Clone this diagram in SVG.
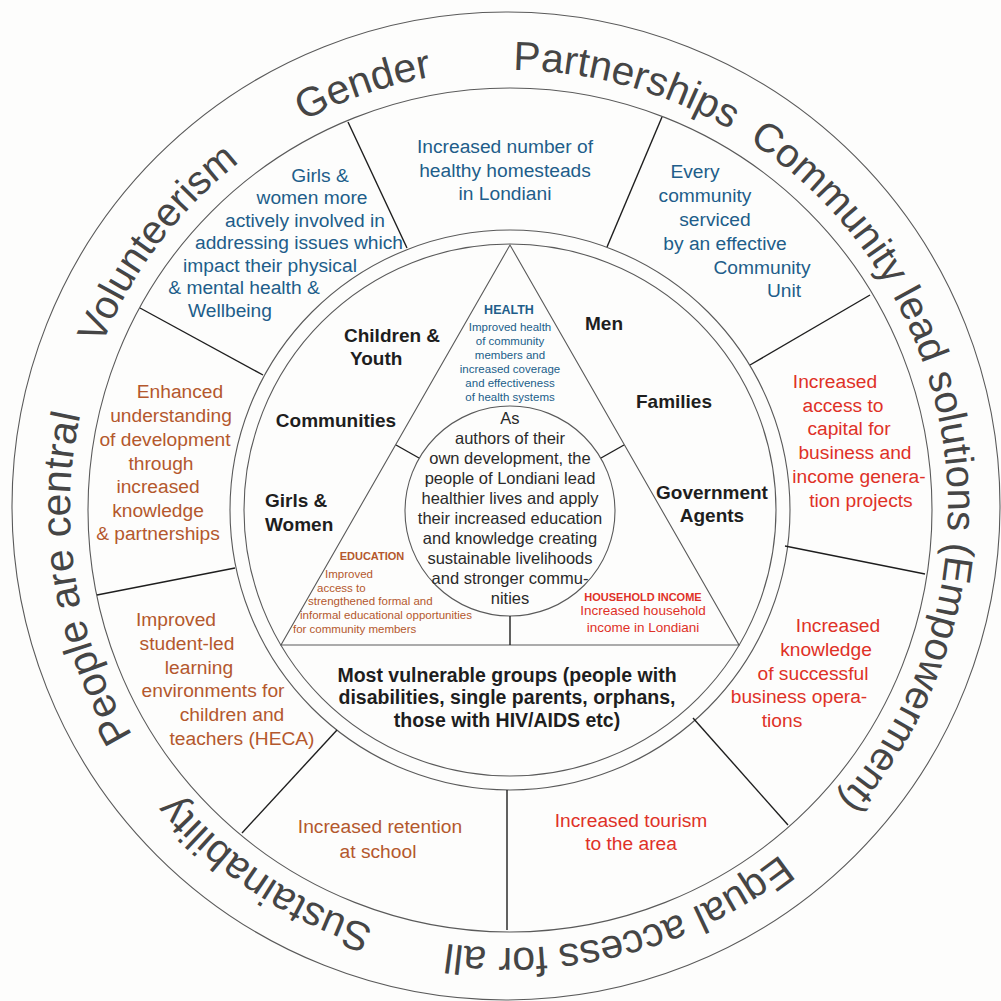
<svg xmlns="http://www.w3.org/2000/svg" width="1001" height="1001" viewBox="0 0 1001 1001">
<defs>
<path id="ring" d="M 509,70 A 439,439 0 0 1 509,948 A 439,439 0 0 1 509,70"/>
<style>
.circ{fill:none;stroke:#5a5a5a;stroke-width:1.1}
.div{stroke:#1e1e1e;stroke-width:1.4}
.ringtxt{font-family:"Liberation Sans",Arial,sans-serif;font-size:41px;fill:#454545;text-anchor:middle}
.w{font-family:"Liberation Sans",Arial,sans-serif;font-size:19.2px;text-anchor:middle}
.blue{fill:#215d8a}
.orange{fill:#b4582d}
.red{fill:#df3127}
.lbl{font-family:"Liberation Sans",Arial,sans-serif;font-size:19px;font-weight:bold;fill:#1e1e1e}
.ctr{font-family:"Liberation Sans",Arial,sans-serif;font-size:16.5px;fill:#2a2a2a;text-anchor:middle}
.sm{font-family:"Liberation Sans",Arial,sans-serif;font-size:11.5px}
.hd{font-family:"Liberation Sans",Arial,sans-serif;font-weight:bold;text-anchor:middle}
</style>
</defs>
<rect width="1001" height="1001" fill="#fdfdfc"/>

<g id="rings">
<circle class="circ" cx="506" cy="506" r="494"/>
<circle class="circ" cx="510" cy="510" r="422"/>
<circle class="circ" cx="510" cy="510" r="280"/>
<circle class="circ" cx="510" cy="510" r="266"/>
<polygon class="circ" points="510,245 281,645 739,645"/>
<circle class="circ" cx="510" cy="511" r="105"/>
</g>

<g id="connectors">
<line class="div" x1="348" y1="122" x2="407" y2="248"/>
<line class="div" x1="662" y1="117" x2="607" y2="247"/>
<line class="div" x1="870" y1="295" x2="750" y2="365"/>
<line class="div" x1="785" y1="546" x2="925" y2="574"/>
<line class="div" x1="693" y1="718" x2="788" y2="825"/>
<line class="div" x1="507" y1="790" x2="507" y2="930"/>
<line class="div" x1="337" y1="730" x2="242" y2="833"/>
<line class="div" x1="235" y1="568" x2="97" y2="595"/>
<line class="div" x1="140" y1="308" x2="263" y2="375"/>
<line class="div" x1="396" y1="445" x2="419" y2="458"/>
<line class="div" x1="624" y1="445" x2="601" y2="458"/>
<line class="div" x1="510" y1="645" x2="510" y2="616"/>
</g>

<g id="values">
<text class="ringtxt" style="font-size:40.5px"><textPath href="#ring" startOffset="118">Partnerships</textPath></text>
<text class="ringtxt" style="font-size:40px"><textPath href="#ring" startOffset="630">Community lead solutions (Empowerment)</textPath></text>
<text class="ringtxt"><textPath href="#ring" startOffset="1264">Equal access for all</textPath></text>
<text class="ringtxt"><textPath href="#ring" startOffset="1637">Sustainability</textPath></text>
<text class="ringtxt"><textPath href="#ring" startOffset="1997">People are central</textPath></text>
<text class="ringtxt" style="font-size:40px"><textPath href="#ring" startOffset="2352">Volunteerism</textPath></text>
<text class="ringtxt"><textPath href="#ring" startOffset="2612">Gender</textPath></text>
</g>

<g id="w-homesteads" class="w blue">
<text x="505" y="153">Increased number of</text>
<text x="505" y="177">healthy homesteads</text>
<text x="505" y="200">in Londiani</text>
</g>

<g id="w-community-unit" class="w blue">
<text x="695" y="178">Every</text>
<text x="705" y="202">community</text>
<text x="715" y="226">serviced</text>
<text x="725" y="250">by an effective</text>
<text x="762" y="274">Community</text>
<text x="784" y="297">Unit</text>
</g>

<g id="w-capital" class="w red">
<text x="835" y="388">Increased</text>
<text x="843" y="412">access to</text>
<text x="849" y="435">capital for</text>
<text x="855" y="459">business and</text>
<text x="859" y="483">income genera-</text>
<text x="861" y="507">tion projects</text>
</g>

<g id="w-business" class="w red">
<text x="838" y="632">Increased</text>
<text x="826" y="656">knowledge</text>
<text x="813" y="680">of successful</text>
<text x="799" y="703">business opera-</text>
<text x="782" y="727">tions</text>
</g>

<g id="w-tourism" class="w red">
<text x="631" y="827">Increased tourism</text>
<text x="631" y="850">to the area</text>
</g>

<g id="w-retention" class="w orange">
<text x="380" y="833">Increased retention</text>
<text x="378" y="858">at school</text>
</g>

<g id="w-heca" class="w orange">
<text x="176" y="626">Improved</text>
<text x="187" y="650">student-led</text>
<text x="199" y="674">learning</text>
<text x="213" y="697">environments for</text>
<text x="232" y="721">children and</text>
<text x="242" y="745">teachers (HECA)</text>
</g>

<g id="w-understanding" class="w orange">
<text x="180" y="398">Enhanced</text>
<text x="171" y="422">understanding</text>
<text x="165" y="446">of development</text>
<text x="161" y="470">through</text>
<text x="158" y="493">increased</text>
<text x="158" y="517">knowledge</text>
<text x="158" y="540">&amp; partnerships</text>
</g>

<g id="w-girls-women" class="w blue">
<text x="320" y="182">Girls &amp;</text>
<text x="312" y="204">women more</text>
<text x="305" y="227">actively involved in</text>
<text x="299" y="249">addressing issues which</text>
<text x="270" y="272">impact their physical</text>
<text x="244" y="294">&amp; mental health &amp;</text>
<text x="230" y="317">Wellbeing</text>
</g>

<g id="groups" class="lbl">
<text x="344" y="342">Children &amp;</text>
<text x="350" y="365">Youth</text>
<text x="336" y="427" text-anchor="middle">Communities</text>
<text x="265" y="507">Girls &amp;</text>
<text x="265" y="531">Women</text>
<text x="604" y="330" text-anchor="middle">Men</text>
<text x="674" y="408" text-anchor="middle">Families</text>
<text x="712" y="499" text-anchor="middle">Government</text>
<text x="712" y="522" text-anchor="middle">Agents</text>
</g>

<g id="health">
<text class="hd blue" x="509" y="314" style="font-size:12.5px">HEALTH</text>
<g class="sm blue" text-anchor="middle">
<text x="510" y="331">Improved health</text>
<text x="510" y="345">of community</text>
<text x="510" y="359">members and</text>
<text x="510" y="373">increased coverage</text>
<text x="510" y="387">and effectiveness</text>
<text x="510" y="401">of health systems</text>
</g>
</g>

<g id="education">
<text class="hd orange" x="372" y="560" style="font-size:11px">EDUCATION</text>
<g class="sm orange">
<text x="325" y="578">Improved</text>
<text x="317" y="592">access to</text>
<text x="308" y="605">strengthened formal and</text>
<text x="300" y="619">informal educational opportunities</text>
<text x="293" y="633">for community members</text>
</g>
</g>

<g id="household-income">
<text class="hd red" x="643" y="601" style="font-size:11px">HOUSEHOLD INCOME</text>
<text class="red" x="643" y="615" font-family="Liberation Sans, Arial, sans-serif" font-size="13.5" text-anchor="middle">Increased household</text>
<text class="red" x="643" y="632" font-family="Liberation Sans, Arial, sans-serif" font-size="13.5" text-anchor="middle">income in Londiani</text>
</g>

<g id="vision" class="ctr">
<text x="510" y="424">As</text>
<text x="510" y="444">authors of their</text>
<text x="510" y="464">own development, the</text>
<text x="510" y="484">people of Londiani lead</text>
<text x="510" y="504">healthier lives and apply</text>
<text x="510" y="524">their increased education</text>
<text x="510" y="544">and knowledge creating</text>
<text x="510" y="564">sustainable livelihoods</text>
<text x="510" y="584">and stronger commu-</text>
<text x="510" y="604">nities</text>
</g>

<g id="vulnerable" class="lbl" text-anchor="middle" style="font-size:19.5px">
<text x="507" y="682">Most vulnerable groups (people with</text>
<text x="507" y="704">disabilities, single parents, orphans,</text>
<text x="507" y="727">those with HIV/AIDS etc)</text>
</g>
</svg>
